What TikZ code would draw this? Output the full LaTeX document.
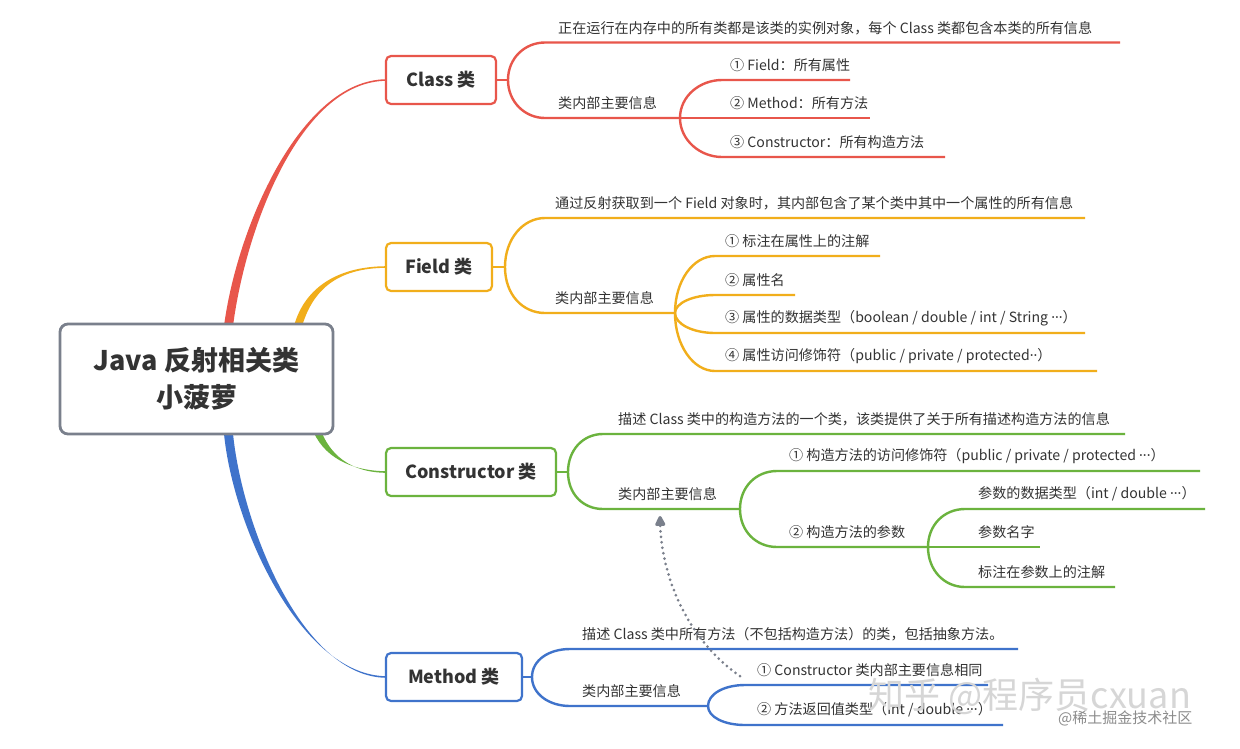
\documentclass[tikz,border=0pt]{standalone}
\usepackage{fontspec}
\setmainfont{Noto Sans CJK SC}
\newfontfamily\latdots{Noto Sans}
\newcommand\mydots{{\latdots ···}}
\usetikzlibrary{arrows.meta}
\definecolor{cred}{HTML}{E8564B}
\definecolor{corange}{HTML}{F1AE1B}
\definecolor{cgreen}{HTML}{6BB33E}
\definecolor{cblue}{HTML}{3F73CB}
\definecolor{cgray}{HTML}{7A808C}
\definecolor{ctext}{HTML}{333333}
\begin{document}
\begin{tikzpicture}[x=1pt,y=-1pt,
  txt/.style={anchor=west, inner sep=0pt, text=ctext, font=\fontsize{14.1}{16}\selectfont},
  box/.style={draw=#1, line width=2.2pt, rounded corners=5pt, fill=white, text=ctext,
    font=\bfseries\fontsize{18}{20}\selectfont, inner sep=0pt, minimum height=48pt},
  ln/.style={draw=#1, line width=2.4pt},
]
\useasboundingbox[fill=white] (0,0) rectangle (1240,748);

% tapered main branches
\fill[cred] (223.5,330) .. controls (235.5,230) and (300,79.2) .. (387,79.2) -- (387,80.8) .. controls (300,80.8) and (244.5,230) .. (232.5,330) -- cycle;
\fill[corange] (293,330) .. controls (302,290) and (335,266.2) .. (387,266.2) -- (387,267.8) .. controls (335,267.8) and (311,292) .. (301,330) -- cycle;
\fill[cgreen] (312,428) .. controls (322,456) and (350,471.2) .. (387,471.2) -- (387,472.8) .. controls (350,472.8) and (329,454) .. (320,428) -- cycle;
\fill[cblue] (223.5,428) .. controls (230.5,522) and (300,676.2) .. (387,676.2) -- (387,677.8) .. controls (300,677.8) and (239.5,518) .. (232.5,428) -- cycle;

% central node
\node[draw=cgray, line width=2.8pt, rounded corners=8pt, fill=white, minimum width=273pt, minimum height=110pt,
  inner sep=0pt, align=center, text=ctext, font=\bfseries\fontsize{27}{37}\selectfont] (root) at (196.5,379)
  {Java 反射相关类\\小菠萝};

% ---------- Class ----------
\node[box=cred, minimum width=110pt] (cls) at (441,80) {Class 类};
\coordinate (cf) at (508,80);
\coordinate (cs) at (680,118);
\draw[ln=cred] (cls.east) -- (cf);
\draw[ln=cred] (cf) .. controls +(0,-22) and +(-20,0) .. (545,42.5) -- (1120,42.5);
\draw[ln=cred] (cf) .. controls +(0,22) and +(-20,0) .. (545,118) -- (cs);
\draw[ln=cred] (cs) .. controls +(0,-22) and +(-22,0) .. (722,80) -- (850,80);
\draw[ln=cred] (cs) -- (870,118);
\draw[ln=cred] (cs) .. controls +(0,22) and +(-22,0) .. (722,157) -- (945,157);
\node[txt] (c1) at (558,28) {正在运行在内存中的所有类都是该类的实例对象，每个 Class 类都包含本类的所有信息};
\node[txt] (c2) at (558,103) {类内部主要信息};
\node[txt] (c21) at (730,65) {① Field：所有属性};
\node[txt] (c22) at (730,103) {② Method：所有方法};
\node[txt] (c23) at (730,142) {③ Constructor：所有构造方法};

% ---------- Field ----------
\node[box=corange, minimum width=106pt] (fld) at (439,267) {Field 类};
\coordinate (ff) at (505,267);
\coordinate (fs) at (675,313);
\draw[ln=corange] (fld.east) -- (ff);
\draw[ln=corange] (ff) .. controls +(0,-28) and +(-22,0) .. (545,218) -- (1085,218);
\draw[ln=corange] (ff) .. controls +(0,28) and +(-22,0) .. (545,313) -- (fs);
\draw[ln=corange] (fs) .. controls +(0,-32) and +(-22,0) .. (715,256) -- (880,256);
\draw[ln=corange] (fs) .. controls +(0,-10) and +(-22,0) .. (715,295) -- (795,295);
\draw[ln=corange] (fs) .. controls +(0,11) and +(-22,0) .. (715,333) -- (1085,333);
\draw[ln=corange] (fs) .. controls +(0,32) and +(-22,0) .. (715,371) -- (1097,371);
\node[txt] (f1) at (555,203) {通过反射获取到一个 Field 对象时，其内部包含了某个类中其中一个属性的所有信息};
\node[txt] (f2) at (555,298) {类内部主要信息};
\node[txt] (f21) at (725,241) {① 标注在属性上的注解};
\node[txt] (f22) at (725,280) {② 属性名};
\node[txt] (f23) at (725,318) {③ 属性的数据类型（boolean / double / int / String \mydots）};
\node[txt] (f24) at (725,356) {④ 属性访问修饰符（public / private / protected{\latdots ··}）};

% ---------- Constructor ----------
\node[box=cgreen, minimum width=170pt] (con) at (471,472) {Constructor 类};
\coordinate (kf) at (568,472);
\coordinate (ks) at (740,509);
\coordinate (kss) at (928,547);
\draw[ln=cgreen] (con.east) -- (kf);
\draw[ln=cgreen] (kf) .. controls +(0,-22) and +(-20,0) .. (603,434) -- (1125,434);
\draw[ln=cgreen] (kf) .. controls +(0,22) and +(-20,0) .. (603,509) -- (ks);
\draw[ln=cgreen] (ks) .. controls +(0,-22) and +(-21,0) .. (777,471) -- (1200,471);
\draw[ln=cgreen] (ks) .. controls +(0,22) and +(-21,0) .. (777,547) -- (kss);
\draw[ln=cgreen] (kss) .. controls +(0,-22) and +(-21,0) .. (965,509) -- (1205,509);
\draw[ln=cgreen] (kss) -- (1040,547);
\draw[ln=cgreen] (kss) .. controls +(0,23) and +(-21,0) .. (965,587) -- (1115,587);
\node[txt] (k1) at (618,419) {描述 Class 类中的构造方法的一个类，该类提供了关于所有描述构造方法的信息};
\node[txt] (k2) at (618,494) {类内部主要信息};
\node[txt] (k21) at (789,456) {① 构造方法的访问修饰符（public / private / protected \mydots）};
\node[txt] (k22) at (789,532) {② 构造方法的参数};
\node[txt] (k221) at (978,494) {参数的数据类型（int / double \mydots）};
\node[txt] (k222) at (978,532) {参数名字};
\node[txt] (k223) at (978,572) {标注在参数上的注解};

% ---------- Method ----------
\node[box=cblue, minimum width=136pt] (mth) at (454,677) {Method 类};
\coordinate (mf) at (532,677);
\coordinate (ms) at (708,706);
\draw[ln=cblue] (mth.east) -- (mf);
\draw[ln=cblue] (mf) .. controls +(0,-17) and +(-21,0) .. (570,649) -- (1018,649);
\draw[ln=cblue] (mf) .. controls +(0,17) and +(-21,0) .. (570,706) -- (ms);
\draw[ln=cblue] (ms) .. controls +(0,-12) and +(-21,0) .. (745,685) -- (988,685);
\draw[ln=cblue] (ms) .. controls +(0,11) and +(-21,0) .. (745,725) -- (1003,725);
\node[txt] (m1) at (582,634) {描述 Class 类中所有方法（不包括构造方法）的类，包括抽象方法。};
\node[txt] (m2) at (582,691) {类内部主要信息};
\node[txt] (m21) at (757,670) {① Constructor 类内部主要信息相同};
\node[txt] (m22) at (757,710) {② 方法返回值类型（int / double \mydots）};

% dotted reference arrow
\coordinate (arrS) at ([xshift=-17pt,yshift=-6pt]m21.west);
\coordinate (arrE) at (660,516);
\draw[cgray, line width=3pt, line cap=round, dash pattern=on 0pt off 5.5pt,
  -{Triangle[length=12pt,width=11pt,round]}]
  (arrS) .. controls (690,642) and (662,580) .. (arrE);

% watermarks
\node[anchor=west, inner sep=0pt, text=black!16, font=\fontsize{36}{40}\selectfont] (wm1) at (868,696) {知乎 @程序员cxuan};
\node[anchor=west, inner sep=0pt, text=black!45, font=\fontsize{15}{17}\selectfont] (wm2) at (1058,718) {@稀土掘金技术社区};
\end{tikzpicture}
\end{document}
